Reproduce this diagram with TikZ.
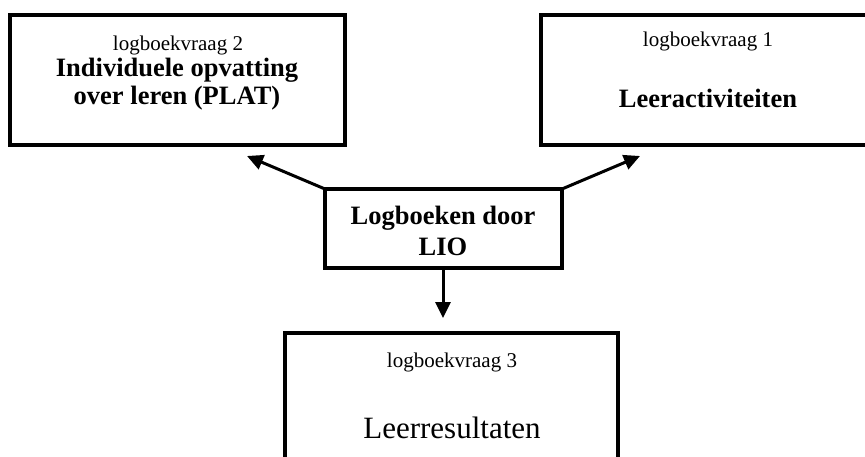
\documentclass[tikz,border=0pt]{standalone}
\usepackage{fontspec}
\setmainfont{Liberation Serif}
\usetikzlibrary{arrows.meta}
\begin{document}
\begin{tikzpicture}[x=1pt,y=-1pt,
  bigbox/.style={draw,line width=4pt,rectangle,inner sep=0pt,outer sep=0pt},
  midbox/.style={draw,line width=3.5pt,rectangle,inner sep=0pt,outer sep=0pt},
  txt/.style={anchor=base,inner sep=0pt,outer sep=0pt},
  small/.style={font=\fontsize{21}{25}\selectfont},
  boldt/.style={font=\fontsize{26.5}{29}\selectfont\bfseries},
  arr/.style={line width=3pt,-{Triangle[length=16pt,width=15pt]}}]
\useasboundingbox (0,0) rectangle (865,457);
\clip (0,0) rectangle (865,457);
\node[bigbox,minimum width=335pt,minimum height=130pt] (lb) at (177.5,80) {};
\node[bigbox,minimum width=334pt,minimum height=130pt] (rb) at (708,80) {};
\node[midbox,minimum width=237pt,minimum height=79pt] (mb) at (443.5,228.5) {};
\node[bigbox,minimum width=333pt,minimum height=170pt] (bb) at (451.5,418) {};
\node[txt,small] (l1) at (178,51) {logboekvraag 2};
\node[txt,boldt] (l2) at (177,77) {Individuele opvatting};
\node[txt,boldt] (l3) at (177,105) {over leren (PLAT)};
\node[txt,small] (r1) at (708,47) {logboekvraag 1};
\node[txt,boldt] (r2) at (708,108) {Leeractiviteiten};
\node[txt,boldt] (m1) at (443,225) {Logboeken door};
\node[txt,boldt] (m2) at (443,256) {LIO};
\node[txt,small] (b1) at (452,367) {logboekvraag 3};
\node[txt,font=\fontsize{31}{36}\selectfont] (b2) at (452,438) {Leerresultaten};
\coordinate (tl) at (247,156);
\coordinate (tr) at (640,156);
\coordinate (tb) at (443,318);
\draw[arr] (mb.north west) -- (tl);
\draw[arr] (mb.north east) -- (tr);
\draw[arr] (mb.south -| tb) -- (tb);
\end{tikzpicture}
\end{document}
